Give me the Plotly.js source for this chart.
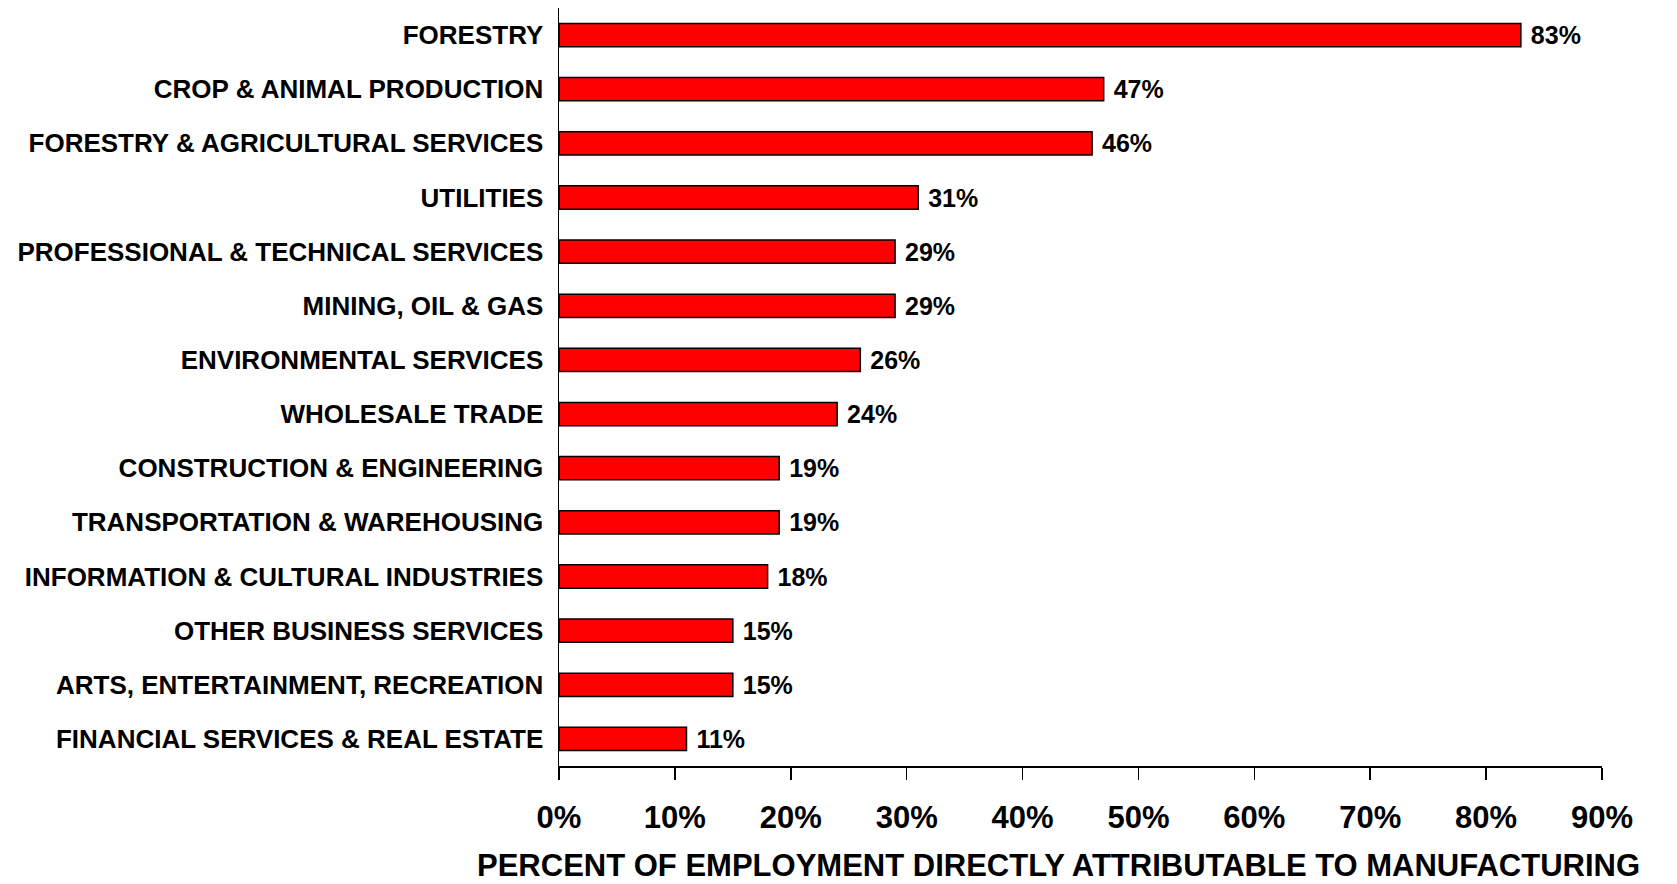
<!DOCTYPE html>
<html>
<head>
<meta charset="utf-8">
<script src="https://cdn.plot.ly/plotly-3.0.1.min.js"></script>
<style>html,body{margin:0;padding:0;background:#fff;}#chart{width:1677px;height:884px;}</style>
</head>
<body>
<div id="chart"></div>
<script>
const categories = [
  "FORESTRY",
  "CROP & ANIMAL PRODUCTION",
  "FORESTRY & AGRICULTURAL SERVICES",
  "UTILITIES",
  "PROFESSIONAL & TECHNICAL SERVICES",
  "MINING, OIL & GAS",
  "ENVIRONMENTAL SERVICES",
  "WHOLESALE TRADE",
  "CONSTRUCTION & ENGINEERING",
  "TRANSPORTATION & WAREHOUSING",
  "INFORMATION & CULTURAL INDUSTRIES",
  "OTHER BUSINESS SERVICES",
  "ARTS, ENTERTAINMENT, RECREATION",
  "FINANCIAL SERVICES & REAL ESTATE"
];
const values = [83, 47, 46, 31, 29, 29, 26, 24, 19, 19, 18, 15, 15, 11];
const tickVals = [0, 10, 20, 30, 40, 50, 60, 70, 80, 90];
const tickText = ["0%", "10%", "20%", "30%", "40%", "50%", "60%", "70%", "80%", "90%"];
const xTitle = "PERCENT OF EMPLOYMENT DIRECTLY ATTRIBUTABLE TO MANUFACTURING";

const fam = "Liberation Sans, Arial, sans-serif";

const trace = {
  type: "bar",
  orientation: "h",
  y: categories,
  x: values,
  texttemplate: " %{x}%",
  textposition: "outside",
  constraintext: "none",
  cliponaxis: false,
  textfont: {family: fam, size: 25, color: "#000", weight: "bold"},
  marker: {color: "#ff0000", line: {color: "#000", width: 1.5}},
  hoverinfo: "skip"
};

const layout = {
  width: 1677,
  height: 884,
  margin: {l: 559, r: 75, t: 8, b: 118},
  paper_bgcolor: "#fff",
  plot_bgcolor: "#fff",
  bargap: 0.57,
  showlegend: false,
  xaxis: {
    range: [0, 90],
    tickvals: tickVals,
    ticktext: tickText,
    showgrid: false,
    zeroline: false,
    showline: true,
    linecolor: "#000",
    linewidth: 1.5,
    ticks: "outside",
    ticklen: 12,
    tickwidth: 1.5,
    tickcolor: "#000",
    ticklabelstandoff: 11,
    tickfont: {family: fam, size: 31, color: "#000", weight: "bold"},
    fixedrange: true
  },
  yaxis: {
    type: "category",
    autorange: "reversed",
    showgrid: false,
    zeroline: false,
    showline: true,
    linecolor: "#000",
    linewidth: 1.5,
    ticks: "",
    ticklabelstandoff: 9,
    tickfont: {family: fam, size: 26, color: "#000", weight: "bold"},
    fixedrange: true
  },
  annotations: [{
    text: xTitle,
    xref: "paper", yref: "paper",
    x: 0.479, y: 0,
    xanchor: "center", yanchor: "middle",
    yshift: -99,
    showarrow: false,
    font: {family: fam, size: 31, color: "#000", weight: "bold"}
  }]
};

Plotly.newPlot("chart", [trace], layout, {displayModeBar: false, staticPlot: true});
</script>
</body>
</html>
